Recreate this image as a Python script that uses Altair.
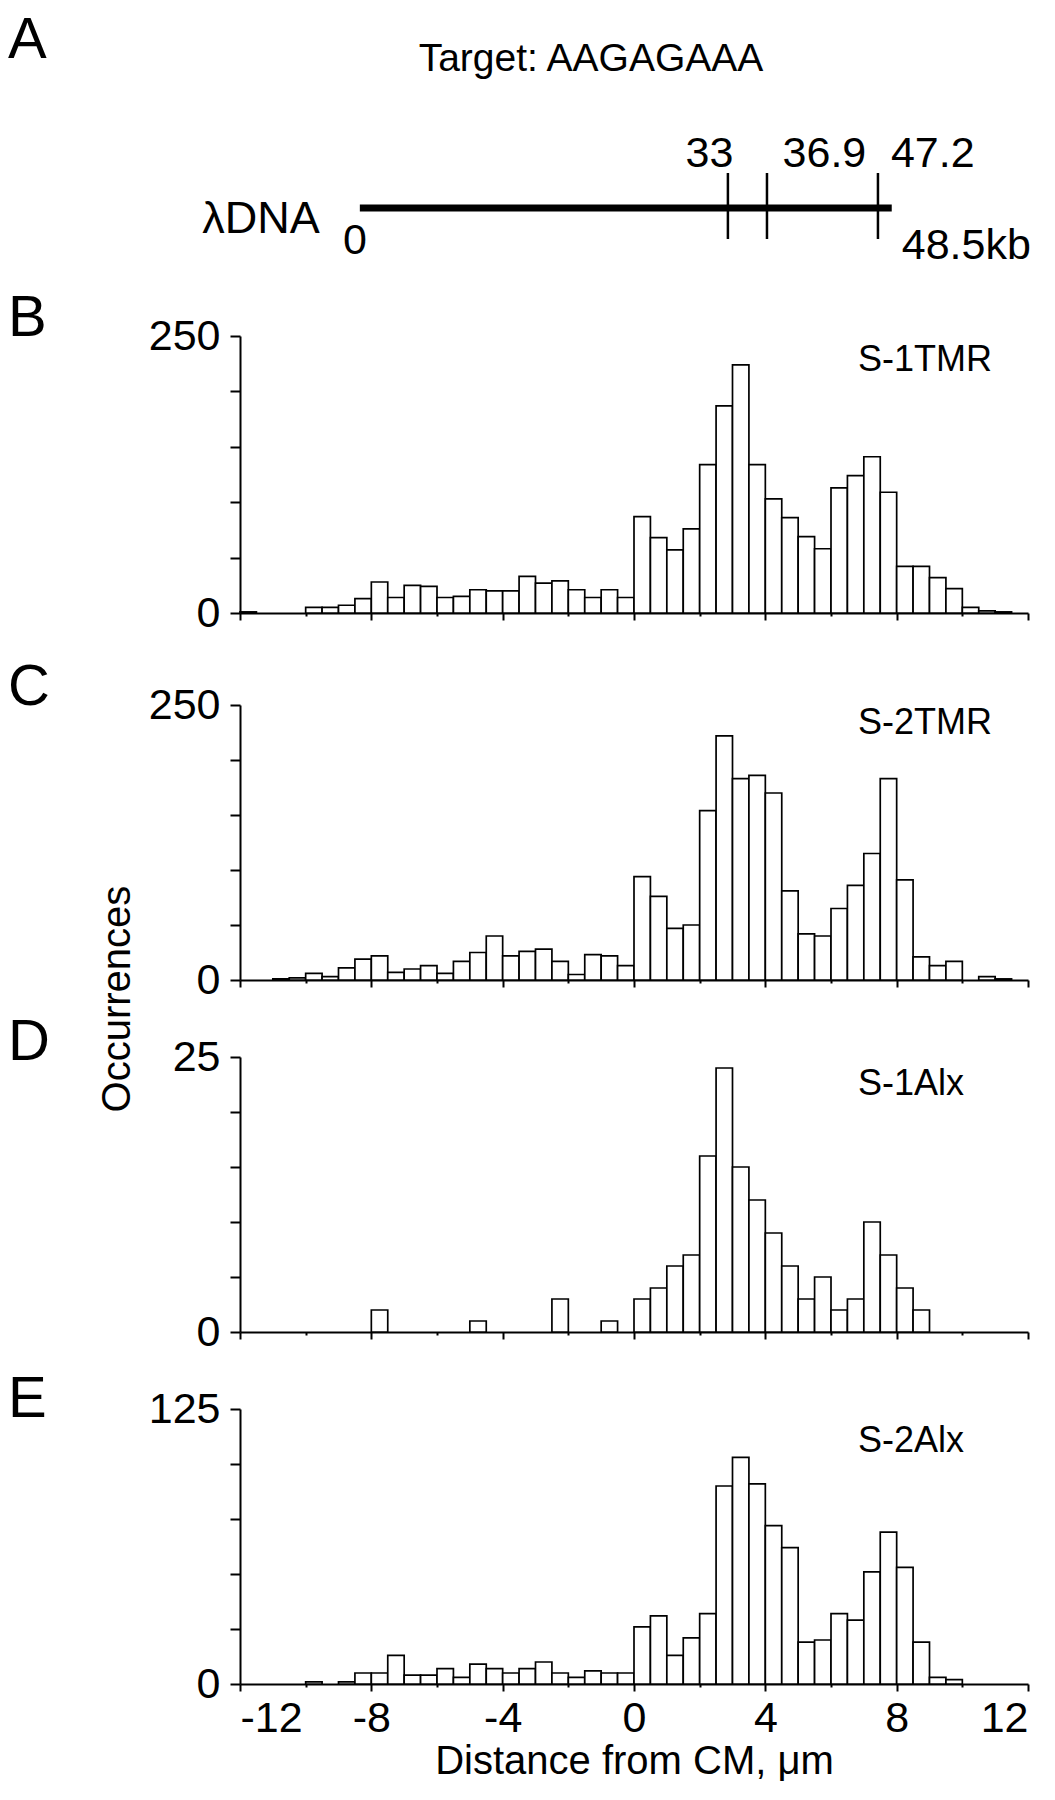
import altair as alt
import pandas as pd

FONT = "Liberation Sans"

# 0.5 um bins from -12 to 12 (left edges)
bin_left = [-12 + 0.5 * i for i in range(48)]

s1tmr = [1, 0, 0, 0, 5, 5, 7, 13, 28, 14, 25, 24, 14, 15, 21, 20, 20, 33, 27, 29, 21, 14, 21, 14,
         87, 68, 57, 76, 134, 187, 224, 134, 103, 86, 69, 58, 113, 124, 141, 109, 42, 42, 32, 22, 5, 2, 1, 0]
s2tmr = [0, 0, 1, 2, 6, 3, 11, 19, 22, 7, 10, 13, 6, 17, 25, 40, 22, 26, 28, 17, 5, 23, 22, 13,
         94, 76, 47, 50, 154, 222, 183, 186, 170, 81, 42, 40, 65, 86, 115, 183, 91, 21, 13, 17, 0, 3, 1, 0]
s1alx = [0, 0, 0, 0, 0, 0, 0, 0, 2, 0, 0, 0, 0, 0, 1, 0, 0, 0, 0, 3, 0, 0, 1, 0,
         3, 4, 6, 7, 16, 24, 15, 12, 9, 6, 3, 5, 2, 3, 10, 7, 4, 2, 0, 0, 0, 0, 0, 0]
s2alx = [0, 0, 0, 0, 1, 0, 1, 5, 5, 13, 4, 4, 7, 3, 9, 7, 5, 7, 10, 5, 3, 6, 5, 5,
         26, 31, 13, 21, 32, 90, 103, 91, 72, 62, 19, 20, 32, 29, 51, 69, 53, 19, 3, 2, 0, 0, 0, 0]

# schematic of lambda DNA, drawn on the same um axis
dna_start = -8.35
dna_end = 7.85
site_pos = [2.86, 4.05, 7.43]
site_labels = ["33", "36.9", "47.2"]
site_label_pos = [2.3, 5.8, 9.1]

W = 788
xscale = alt.Scale(domain=[-12, 12], nice=False, zero=False)


def label_layer(text, x, y, size, baseline="alphabetic", **kw):
    return alt.Chart(pd.DataFrame({"t": [text]})).mark_text(
        fontSize=size, font=FONT, color="black", baseline=baseline, **kw
    ).encode(x=alt.value(x), y=alt.value(y), text="t:N")


# panel A
sites = pd.DataFrame({"pos": site_pos, "label": site_labels, "lpos": site_label_pos})
dna = pd.DataFrame({"start": [dna_start], "end": [dna_end]})

dna_line = alt.Chart(dna).mark_rule(strokeWidth=7, color="black").encode(
    x=alt.X("start:Q", scale=xscale, axis=None), x2="end:Q", y=alt.value(197))
site_ticks = alt.Chart(sites).mark_rule(strokeWidth=2.5, color="black").encode(
    x=alt.X("pos:Q", scale=xscale, axis=None), y=alt.value(162), y2=alt.value(228))
site_text = alt.Chart(sites).mark_text(fontSize=43, font=FONT, color="black", baseline="alphabetic").encode(
    x=alt.X("lpos:Q", scale=xscale, axis=None), y=alt.value(156), text="label:N")
zero_text = alt.Chart(dna).mark_text(fontSize=43, font=FONT, color="black", baseline="alphabetic", dx=-5).encode(
    x=alt.X("start:Q", scale=xscale, axis=None), y=alt.value(243), text=alt.value("0"))
end_text = alt.Chart(dna).mark_text(fontSize=43, font=FONT, color="black", baseline="alphabetic",
                                    align="left", dx=10).encode(
    x=alt.X("end:Q", scale=xscale, axis=None), y=alt.value(248), text=alt.value("48.5kb"))
dna_name = alt.Chart(dna).mark_text(fontSize=45, font=FONT, color="black", baseline="alphabetic",
                                    align="right", dx=-40).encode(
    x=alt.X("start:Q", scale=xscale, axis=None), y=alt.value(222), text=alt.value("λDNA"))

panel_a = alt.layer(
    dna_line, site_ticks, site_text, zero_text, end_text, dna_name,
    label_layer("A", -232, 47, 58, align="left"),
    label_layer("Target: AAGAGAAA", 351, 60, 39, align="center"),
).properties(width=W, height=233)


def panel(letter, name, counts, ymax, step, height, name_y, letter_y, bottom=False, extra=None):
    df = pd.DataFrame({"x0": bin_left, "n": counts})
    df["x1"] = df["x0"] + 0.5
    df["base"] = 0
    df = df[df["n"] > 0]

    ticks = {"condition": {"test": "datum.value % 4 == 0", "value": 7}, "value": 3}
    if bottom:
        xaxis = alt.Axis(values=list(range(-12, 13, 2)),
                         labelExpr="datum.value % 4 == 0 ? '' + datum.value : ''",
                         labelFontSize=43, labelPadding=6, title="Distance from CM, μm",
                         titleFontSize=40, titleFontWeight="normal", titlePadding=1,
                         tickSize=ticks)
    else:
        xaxis = alt.Axis(values=list(range(-12, 13, 2)), labels=False, title=None, tickSize=ticks)

    yaxis = alt.Axis(values=list(range(0, ymax + 1, step)),
                     labelExpr=f"datum.value == 0 || datum.value == {ymax} ? '' + datum.value : ''",
                     labelFontSize=43, labelPadding=10, tickSize=10, title=None)

    bars = alt.Chart(df).mark_rect(fill="white", stroke="black", strokeWidth=1.7).encode(
        x=alt.X("x0:Q", scale=xscale, axis=xaxis),
        x2="x1:Q",
        y=alt.Y("n:Q", scale=alt.Scale(domain=[0, ymax], nice=False), axis=yaxis),
        y2="base:Q",
    )
    layers = [bars,
              label_layer(name, 618, name_y, 36, baseline="middle", align="left"),
              label_layer(letter, -232, letter_y, 58, align="left")]
    if extra is not None:
        layers.append(extra)
    return alt.layer(*layers).properties(width=W, height=height)


occ = label_layer("Occurrences", -122, 294, 40, baseline="middle", align="center", angle=270)

lower = alt.vconcat(
    panel("C", "S-2TMR", s2tmr, 250, 50, 275, 18, 0, extra=occ),
    panel("D", "S-1Alx", s1alx, 25, 5, 275, 27, 3),
    panel("E", "S-2Alx", s2alx, 125, 25, 275, 32, 8, bottom=True),
    spacing=77, bounds="flush",
)

chart = alt.vconcat(
    panel_a,
    panel("B", "S-1TMR", s1tmr, 250, 50, 277, 24, 0),
    lower,
    spacing=92, bounds="flush",
).properties(
    padding={"top": 3, "left": 0, "right": 0, "bottom": 0}
).configure(font=FONT).configure_view(strokeWidth=0, stroke="transparent").configure_axis(
    domainColor="black", domainWidth=2, tickColor="black", tickWidth=2,
    labelColor="black", titleColor="black", labelFont=FONT, titleFont=FONT, grid=False,
)

chart.save("out.html", embed_options={"renderer": "svg", "actions": False})
